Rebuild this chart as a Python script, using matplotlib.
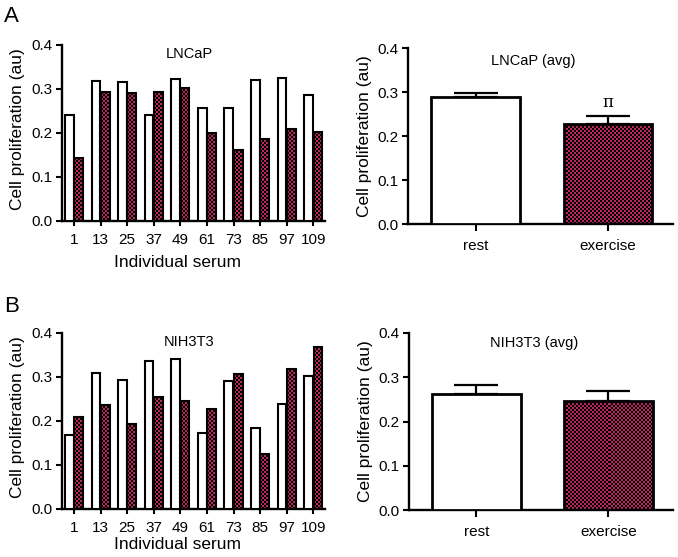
import numpy as np
import matplotlib
matplotlib.use("Agg")
import matplotlib.pyplot as plt

plt.rcParams['font.family'] = ['Liberation Sans', 'DejaVu Sans']

# ---- data ----
serum_labels = ["1", "13", "25", "37", "49", "61", "73", "85", "97", "109"]
lncap_rest = [0.241, 0.317, 0.314, 0.241, 0.322, 0.257, 0.257, 0.320, 0.324, 0.286]
lncap_exer = [0.142, 0.292, 0.289, 0.293, 0.302, 0.199, 0.161, 0.186, 0.209, 0.201]
nih_rest = [0.167, 0.307, 0.292, 0.335, 0.339, 0.171, 0.290, 0.184, 0.238, 0.301]
nih_exer = [0.209, 0.235, 0.191, 0.253, 0.244, 0.227, 0.306, 0.125, 0.317, 0.366]

avg_labels = ["rest", "exercise"]
lncap_avg = [0.288, 0.227]
lncap_err = [0.010, 0.018]
nih_avg = [0.262, 0.246]
nih_err = [0.021, 0.022]

CRIMSON = np.array([0.74, 0.15, 0.38])

W, H = 678, 557
fig = plt.figure(figsize=(W / 100, H / 100), dpi=100)


def ax_px(l, r, b, t):
    return fig.add_axes([l / W, 1 - b / H, (r - l) / W, (b - t) / H])


ax1 = ax_px(62, 325, 221, 44.5)
ax2 = ax_px(408, 673, 224, 48)
ax3 = ax_px(62, 325, 508.5, 332.5)
ax4 = ax_px(409, 673, 510, 333)

red_bars = []


def style(ax):
    for s in ['top', 'right']:
        ax.spines[s].set_visible(False)
    for s in ['left', 'bottom']:
        ax.spines[s].set_linewidth(1.7)
    ax.set_ylim(0, 0.4)
    ax.set_yticks([0.0, 0.1, 0.2, 0.3, 0.4])
    ax.set_yticklabels(["0.0", "0.1", "0.2", "0.3", "0.4"])
    ax.tick_params(axis='both', direction='out', length=4.5, width=1.5,
                   labelsize=11, pad=2, colors='black')
    ax.set_ylabel("Cell proliferation (au)", fontsize=12.5)


def individual(ax, rest, exer, title, xlab_y):
    x = np.arange(len(serum_labels))
    w = 0.33
    ax.bar(x - 0.175, rest, w, facecolor='white', edgecolor='black',
           linewidth=1.5, zorder=3)
    bars = ax.bar(x + 0.175, exer, w, facecolor='none', edgecolor='black',
                  linewidth=1.5, zorder=3)
    red_bars.extend([(ax, b) for b in bars])
    ax.set_xlim(-0.45, 9.44)
    ax.set_xticks(x)
    ax.set_xticklabels(serum_labels)
    style(ax)
    ax.tick_params(axis='x', length=3.5, pad=5.5)
    ax.set_xlabel("Individual serum", fontsize=12.5)
    ax.xaxis.set_label_coords(0.439, xlab_y)
    ax.text(0.483, 0.379, title, transform=ax.get_yaxis_transform(),
            ha='center', va='center', fontsize=10.5)
    ax.yaxis.set_label_coords(-0.141, 0.52)


def average(ax, vals, errs, title, ty, mark=None):
    x = np.arange(2)
    w = 0.67
    ax.bar(x[0], vals[0], w, facecolor='white', edgecolor='black',
           linewidth=2.0, zorder=3)
    b = ax.bar(x[1], vals[1], w, facecolor='none', edgecolor='black',
               linewidth=2.0, zorder=3)
    red_bars.append((ax, b[0]))
    ax.errorbar(x, vals, yerr=[[0, 0], errs], fmt='none', ecolor='black',
                elinewidth=1.6, capsize=16, capthick=1.6, zorder=2.8)
    ax.set_xlim(-0.51, 1.49)
    ax.set_xticks(x)
    ax.set_xticklabels(avg_labels, fontsize=10.5)
    style(ax)
    ax.tick_params(axis='x', length=5, pad=6)
    ax.text(0.473, ty, title, transform=ax.get_yaxis_transform(),
            ha='center', va='center', fontsize=10.5)
    if mark:
        ax.text(x[1], vals[1] + errs[1] + 0.032, mark, ha='center',
                va='center', fontsize=12, family='DejaVu Serif')
    ax.yaxis.set_label_coords(-0.136, 0.5)


individual(ax1, lncap_rest, lncap_exer, "LNCaP", -0.19)
average(ax2, lncap_avg, lncap_err, "LNCaP (avg)", 0.370, mark="π")
individual(ax3, nih_rest, nih_exer, "NIH3T3", -0.163)
average(ax4, nih_avg, nih_err, "NIH3T3 (avg)", 0.377)

fig.text(4 / W, 1 - 17 / H, "A", fontsize=16, va='center', ha='left')
fig.text(4 / W, 1 - 306 / H, "B", fontsize=16, va='center', ha='left')

# checkerboard fill for exercise bars
fig.canvas.draw()
for ax, bar in red_bars:
    bb = bar.get_window_extent()
    pw = max(int(round(bb.width)), 1)
    ph = max(int(round(bb.height)), 1)
    yy, xx = np.mgrid[0:ph, 0:pw]
    chk = ((xx // 2 + yy // 2) % 2) == 1
    img = np.zeros((ph, pw, 3))
    img[chk] = CRIMSON
    xl, yl = ax.get_xlim(), ax.get_ylim()
    im = ax.imshow(img, extent=(bar.get_x(), bar.get_x() + bar.get_width(),
                                bar.get_y(), bar.get_y() + bar.get_height()),
                   aspect='auto', interpolation='nearest', zorder=2.5)
    im.set_clip_path(bar)
    ax.set_xlim(xl)
    ax.set_ylim(yl)

fig.savefig("out.png", dpi=100)
